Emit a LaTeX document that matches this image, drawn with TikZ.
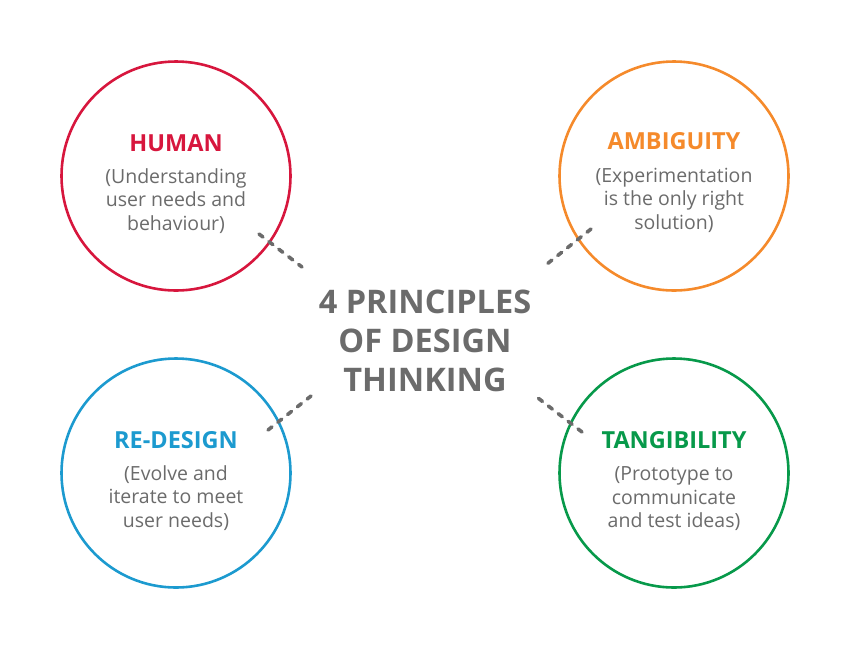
\documentclass[tikz,border=0pt]{standalone}
\usepackage{fontspec}
\setmainfont{Open Sans}
\usepackage{tikz}
\usetikzlibrary{positioning}

\definecolor{humred}{HTML}{D7163D}
\definecolor{ambor}{HTML}{F58A2B}
\definecolor{desblue}{HTML}{1C9ACF}
\definecolor{tangreen}{HTML}{07994A}
\definecolor{txtgray}{HTML}{6B6B6B}

\tikzset{
    ring/.style={draw=#1, line width=2.6pt, circle, minimum size=229pt, inner sep=0pt},
    headline/.style={text=#1, font=\fontsize{23.5}{28}\selectfont\bfseries},
    blurb/.style={text=txtgray, align=center, font=\fontsize{19.5}{23.5}\selectfont},
    link/.style={draw=txtgray, line width=3.6pt, line cap=round, dash pattern=on 5pt off 7.5pt}
}

\begin{document}
\begin{tikzpicture}[x=1pt, y=-1pt]
    \useasboundingbox (0,0) rectangle (850,649);

    % Centre title
    \node[text=txtgray, align=center, font=\fontsize{32.5}{39}\selectfont\bfseries] (core) at (425,341)
        {4 PRINCIPLES\\OF DESIGN\\THINKING};

    % Human (top left)
    \node[ring=humred] (human) at (176,176) {};
    \node[headline=humred] (humanhead) at (176,143) {HUMAN};
    \node[blurb] (humanblurb) at (176,201) {(Understanding\\user needs and\\behaviour)};

    % Ambiguity (top right)
    \node[ring=ambor] (ambig) at (674,176) {};
    \node[headline=ambor] (ambighead) at (674,141) {AMBIGUITY};
    \node[blurb] (ambigblurb) at (674,200) {(Experimentation\\is the only right\\solution)};

    % Re-design (bottom left)
    \node[ring=desblue] (redes) at (176,473) {};
    \node[headline=desblue] (redeshead) at (176,440) {RE-DESIGN};
    \node[blurb] (redesblurb) at (176,498) {(Evolve and\\iterate to meet\\user needs)};

    % Tangibility (bottom right)
    \node[ring=tangreen] (tang) at (674,473) {};
    \node[headline=tangreen] (tanghead) at (674,440) {TANGIBILITY};
    \node[blurb] (tangblurb) at (674,499) {(Prototype to\\communicate\\and test ideas)};

    % Dashed links
    \coordinate (hA) at (259,234);   \coordinate (hB) at (302,267);
    \coordinate (aA) at (591,229);   \coordinate (aB) at (547,264);
    \coordinate (rA) at (268,430);   \coordinate (rB) at (311,396);
    \coordinate (tA) at (582,432);   \coordinate (tB) at (538,398);
    \draw[link] (hA) -- (hB);
    \draw[link] (aA) -- (aB);
    \draw[link] (rA) -- (rB);
    \draw[link] (tA) -- (tB);
\end{tikzpicture}
\end{document}
